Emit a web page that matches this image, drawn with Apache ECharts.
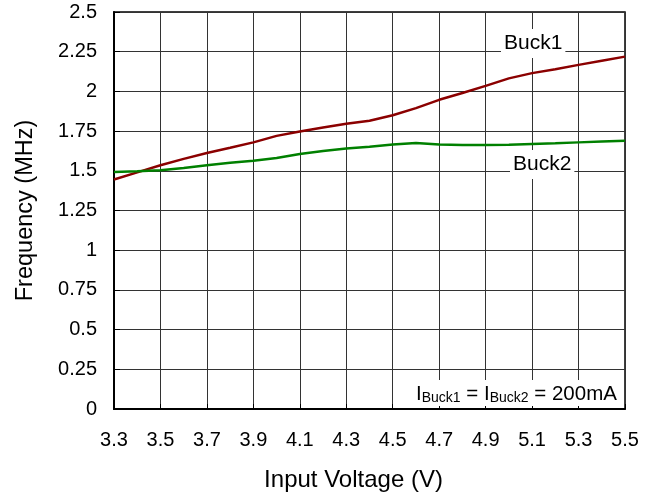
<!DOCTYPE html>
<html><head><meta charset="utf-8">
<script src="https://cdn.jsdelivr.net/npm/echarts@6/dist/echarts.min.js"></script>
<style>html,body{margin:0;padding:0;background:#fff}#c{width:657px;height:497px}</style>
</head><body><div id="c"></div>
<script>
var voltages = [3.3,3.4,3.5,3.6,3.7,3.8,3.9,4.0,4.1,4.2,4.3,4.4,4.5,4.6,4.7,4.8,4.9,5.0,5.1,5.2,5.3,5.4,5.5];
var buck1 = [1.445,1.49,1.535,1.575,1.612,1.645,1.679,1.72,1.748,1.773,1.796,1.815,1.85,1.895,1.947,1.99,2.035,2.082,2.115,2.14,2.167,2.193,2.219];
var buck2 = [1.493,1.497,1.503,1.518,1.535,1.55,1.564,1.58,1.606,1.625,1.64,1.652,1.665,1.675,1.665,1.663,1.663,1.664,1.669,1.673,1.679,1.685,1.69];
var seriesNames = ['Buck1','Buck2'];
var xTitle = 'Input Voltage (V)';
var yTitle = 'Frequency (MHz)';

function pairs(xs, ys){ return xs.map(function(x,i){ return [x, ys[i]]; }); }
var FONT = 'Liberation Sans, Arial, sans-serif';
var chart = echarts.init(document.getElementById('c'));
chart.setOption({
  animation: false,
  grid: {left:114, right:32, top:12, bottom:87, show:true, borderColor:'#000', borderWidth:1.5},
  xAxis: {
    type:'value', min:3.3, max:5.5, interval:0.2,
    name: xTitle, nameLocation:'middle', nameGap:59,
    nameTextStyle:{fontFamily:FONT, fontSize:24, color:'#000', padding:[0,32,0,0]},
    axisLine:{show:true, lineStyle:{color:'#000', width:2}},
    axisTick:{show:true, inside:true, length:5, lineStyle:{color:'#000'}},
    axisLabel:{margin:21, fontFamily:FONT, fontSize:20, color:'#000', formatter:function(v){return v.toFixed(1);}},
    splitLine:{show:true, lineStyle:{color:'#333', width:1}}
  },
  yAxis: {
    type:'value', min:0, max:2.5, interval:0.25,
    name: yTitle, nameLocation:'middle', nameGap:76,
    nameTextStyle:{fontFamily:FONT, fontSize:23.5, color:'#000'},
    axisLine:{show:true, lineStyle:{color:'#000', width:2}},
    axisTick:{show:true, inside:true, length:6, lineStyle:{color:'#000'}},
    axisLabel:{margin:17, fontFamily:FONT, fontSize:20, color:'#000', formatter:function(v){return String(+v.toFixed(2));}},
    splitLine:{show:true, lineStyle:{color:'#333', width:1}}
  },
  series: [
    {name:seriesNames[0], type:'line', data:pairs(voltages,buck1), showSymbol:false, smooth:false,
     lineStyle:{color:'#8B0000', width:2.5}, z:3},
    {name:seriesNames[1], type:'line', data:pairs(voltages,buck2), showSymbol:false, smooth:false,
     lineStyle:{color:'#008000', width:2.5}, z:3}
  ],
  graphic: [
    {type:'text', left:501, top:29, z:10, style:{text:seriesNames[0], fontFamily:FONT, fontSize:21, fill:'#000', backgroundColor:'#fff', padding:[4,3,4,3]}},
    {type:'text', left:510, top:150, z:10, style:{text:seriesNames[1], fontFamily:FONT, fontSize:21, fill:'#000', backgroundColor:'#fff', padding:[4,3,4,3]}},
    {type:'text', left:413, top:380, z:10, style:{
      text:'{a|I}{b|Buck1}{a| = I}{b|Buck2}{a| = 200mA}',
      backgroundColor:'#fff', padding:[1,3,1,3],
      rich:{
        a:{fontFamily:FONT, fontSize:20.5, lineHeight:24, verticalAlign:'bottom', fill:'#000', color:'#000'},
        b:{fontFamily:FONT, fontSize:14, lineHeight:12, verticalAlign:'bottom', fill:'#000', color:'#000'}
      }}}
  ]
});
</script></body></html>
